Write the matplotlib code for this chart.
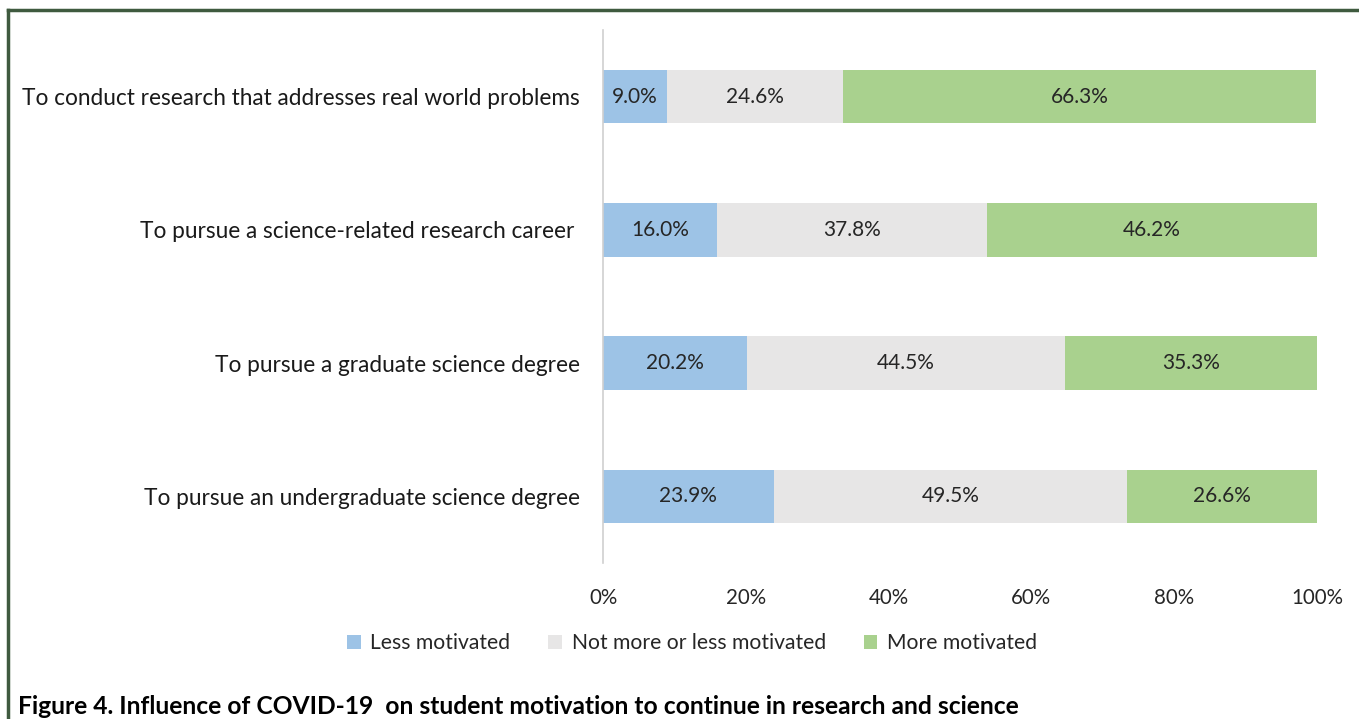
import matplotlib
matplotlib.use("Agg")
import matplotlib.pyplot as plt
from matplotlib.lines import Line2D

categories = [
    "To conduct research that addresses real world problems",
    "To pursue a science-related research career ",
    "To pursue a graduate science degree",
    "To pursue an undergraduate science degree",
]
less = [9.0, 16.0, 20.2, 23.9]
neutral = [24.6, 37.8, 44.5, 49.5]
more = [66.3, 46.2, 35.3, 26.6]
series_names = ["Less motivated", "Not more or less motivated", "More motivated"]
colors = ["#9DC3E6", "#E7E6E6", "#A9D18E"]
xticks = [0, 20, 40, 60, 80, 100]
caption = "Figure 4. Influence of COVID-19  on student motivation to continue in research and science"

plt.rcParams['font.family'] = ['Lato', 'DejaVu Sans']
W, H = 1359, 719
fig = plt.figure(figsize=(W / 100, H / 100), dpi=100)
ax = fig.add_axes([603 / W, 1 - 563 / H, (1317 - 603) / W, (563 - 30) / H])

ypos = list(range(len(categories)))
left = [0.0] * len(categories)
for vals, name, col in zip([less, neutral, more], series_names, colors):
    bars = ax.barh(ypos, vals, left=left, height=0.4, color=col, label=name)
    for y, l, v in zip(ypos, left, vals):
        ax.text(l + v / 2, y, f"{v:.1f}%", ha="center", va="center",
                fontsize=15, color="#262626")
    left = [a + b for a, b in zip(left, vals)]

ax.set_ylim(len(categories) - 0.5, -0.5)
ax.set_xlim(0, 100)
ax.set_yticks(ypos)
ax.set_yticklabels(categories, fontsize=16.3, color="#1a1a1a")
ax.set_xticks(xticks)
ax.set_xticklabels([f"{t}%" for t in xticks], fontsize=14.8, color="#262626")
ax.tick_params(axis="y", length=0, pad=16.5)
ax.tick_params(axis="x", length=0, pad=18)
for s in ["top", "right", "bottom"]:
    ax.spines[s].set_visible(False)
ax.spines["left"].set_color("#D0D0D0")
ax.spines["left"].set_linewidth(1.2)

leg = fig.legend(loc="center", bbox_to_anchor=(692 / W, 1 - 643 / H), ncol=3,
                 frameon=False, fontsize=15.2, handlelength=0.65, handleheight=0.65,
                 handletextpad=0.45, columnspacing=1.8)
for t in leg.get_texts():
    t.set_color("#262626")

fig.text(18 / W, 1 - 707 / H, caption, ha="left", va="center",
         fontsize=17.7, fontweight="bold", color="black")

# border lines of the figure frame
fig.add_artist(Line2D([8 / W, 1], [1 - 10 / H, 1 - 10 / H], transform=fig.transFigure,
                      color="#3F5A3F", linewidth=2.5))
fig.add_artist(Line2D([8 / W, 8 / W], [1 - 10 / H, 0], transform=fig.transFigure,
                      color="#3F5A3F", linewidth=2.5))

fig.savefig("out.png", dpi=100)
